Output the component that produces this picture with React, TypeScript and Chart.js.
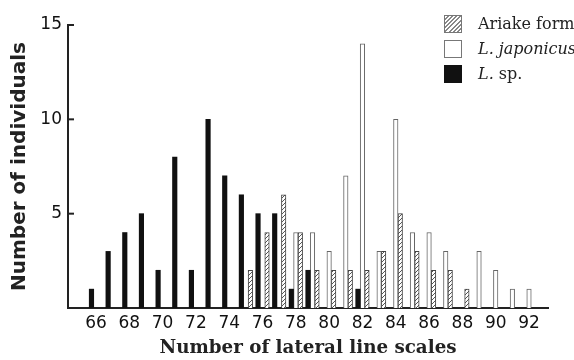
import React, { useEffect, useRef } from 'react';
import { Chart, registerables } from 'chart.js';

Chart.register(...registerables);

// Number of lateral line scales (x categories)
const scaleCounts = [66, 67, 68, 69, 70, 71, 72, 73, 74, 75, 76, 77, 78, 79, 80, 81, 82, 83, 84, 85, 86, 87, 88, 89, 90, 91, 92];
// Number of individuals per series
const lspCounts = [1, 3, 4, 5, 2, 8, 2, 10, 7, 6, 5, 5, 1, 2, null, null, 1, null, null, null, null, null, null, null, null, null, null];
const japonicusCounts = [null, null, null, null, null, null, null, null, null, null, null, null, 4, 4, 3, 7, 14, 3, 10, 4, 4, 3, null, 3, 2, 1, 1];
const ariakeCounts = [null, null, null, null, null, null, null, null, null, 2, 4, 6, 4, 2, 2, 2, 2, 3, 5, 3, 2, 2, 1, null, null, null, null];
const xTickLabels = [66, 68, 70, 72, 74, 76, 78, 80, 82, 84, 86, 88, 90, 92];
const yTickValues = [5, 10, 15];

const SANS = "'DejaVu Sans', sans-serif";
const SERIF = "'DejaVu Serif', serif";

function makeHatch(): CanvasPattern | string {
  const c = document.createElement('canvas');
  c.width = 4;
  c.height = 4;
  const g = c.getContext('2d');
  if (!g) return '#999';
  g.fillStyle = '#ffffff';
  g.fillRect(0, 0, 4, 4);
  g.strokeStyle = '#555';
  g.lineWidth = 1;
  g.beginPath();
  g.moveTo(0, 4);
  g.lineTo(4, 0);
  g.moveTo(-1, 1);
  g.lineTo(1, -1);
  g.moveTo(3, 5);
  g.lineTo(5, 3);
  g.stroke();
  const p = g.createPattern(c, 'repeat');
  return p || '#999';
}

const innerTicks = {
  id: 'innerTicks',
  afterDraw(chart: any) {
    const y = chart.scales.y;
    const ctx = chart.ctx;
    ctx.save();
    ctx.strokeStyle = '#222';
    ctx.lineWidth = 2;
    yTickValues.forEach((v) => {
      const py = y.getPixelForValue(v);
      ctx.beginPath();
      ctx.moveTo(y.right - 1, py);
      ctx.lineTo(y.right + 6, py);
      ctx.stroke();
    });
    ctx.restore();
  },
};

export default function App() {
  const ref = useRef<HTMLCanvasElement | null>(null);

  useEffect(() => {
    if (!ref.current) return;
    const hatch = makeHatch();
    const toPoints = (arr: (number | null)[]) => scaleCounts.map((x, i) => ({ x, y: arr[i] }));
    const chart = new Chart(ref.current, {
      type: 'bar',
      data: {
        datasets: [
          {
            label: 'L. sp.',
            data: toPoints(lspCounts) as any,
            backgroundColor: '#111',
            borderColor: '#111',
            borderWidth: 0,
            barThickness: 4.5,
          },
          {
            label: 'L. japonicus',
            data: toPoints(japonicusCounts) as any,
            backgroundColor: '#fff',
            borderColor: '#666',
            borderWidth: 1,
            barThickness: 4.5,
          },
          {
            label: 'Ariake form',
            data: toPoints(ariakeCounts) as any,
            backgroundColor: hatch as any,
            borderColor: '#444',
            borderWidth: 1,
            barThickness: 4.5,
          },
        ],
      },
      options: {
        animation: false,
        responsive: false,
        devicePixelRatio: 1,
        layout: { padding: { top: 25, right: 26, left: 0, bottom: 0 } },
        plugins: { legend: { display: false }, tooltip: { enabled: false } },
        scales: {
          x: {
            type: 'linear',
            offset: false,
            min: 64.32,
            max: 93.14,
            grid: { display: false, drawTicks: false },
            border: { display: true, color: '#222', width: 2 },
            afterBuildTicks: (scale: any) => {
              scale.ticks = xTickLabels.map((v) => ({ value: v }));
            },
            afterFit: (scale: any) => {
              scale.height = 52;
            },
            ticks: {
              autoSkip: false,
              maxRotation: 0,
              padding: 5,
              color: '#111',
              font: { family: SANS, size: 17 },
              callback: (v: any) => String(v),
            },
            title: {
              display: true,
              text: 'Number of lateral line scales',
              color: '#222',
              font: { family: SERIF, size: 18.3, weight: 'bold' },
              padding: { top: 0, bottom: 1 },
            },
          },
          y: {
            type: 'linear',
            min: 0,
            max: 15,
            grid: { display: false, drawTicks: false },
            border: { display: true, color: '#222', width: 2 },
            afterBuildTicks: (scale: any) => {
              scale.ticks = yTickValues.map((v) => ({ value: v }));
            },
            afterFit: (scale: any) => {
              scale.width = 68;
            },
            ticks: {
              padding: 6,
              color: '#111',
              font: { family: SANS, size: 17 },
            },
            title: {
              display: true,
              text: 'Number of individuals',
              color: '#222',
              font: { family: SANS, size: 20, weight: 'bold' },
              padding: { top: 8, bottom: 0 },
            },
          },
        },
      },
      plugins: [innerTicks],
    });
    return () => chart.destroy();
  }, []);

  const legendRow = (top: number, box: React.CSSProperties, text: React.ReactNode) => (
    <div style={{ position: 'absolute', left: 444, top, height: 18, display: 'flex', alignItems: 'center' }}>
      <div style={{ width: 18, height: 18, boxSizing: 'border-box', border: '1px solid #777', ...box }} />
      <span style={{ marginLeft: 16, fontFamily: SERIF, fontSize: 16, color: '#222', whiteSpace: 'nowrap', lineHeight: '18px' }}>{text}</span>
    </div>
  );

  return (
    <div style={{ position: 'absolute', left: 0, top: 0, width: 574, height: 360, background: '#fff', overflow: 'hidden' }}>
      <canvas ref={ref} width={574} height={360} style={{ display: 'block' }} />
      {legendRow(15, { background: 'repeating-linear-gradient(135deg, #fff 0px, #fff 1.5px, #888 1.5px, #888 3px)' }, 'Ariake form')}
      {legendRow(40, { background: '#fff' }, <><i>L. japonicus</i></>)}
      {legendRow(65, { background: '#111', borderColor: '#111' }, <><i>L.</i> sp.</>)}
    </div>
  );
}
